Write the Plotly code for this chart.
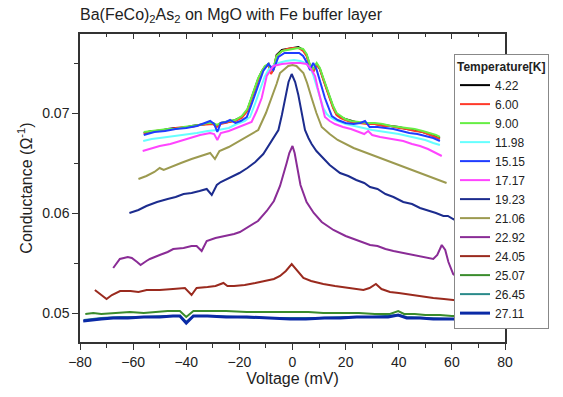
import plotly.graph_objects as go

temps = ["4.22", "6.00", "9.00", "11.98", "15.15", "17.17", "19.23", "21.06",
         "22.92", "24.05", "25.07", "26.45", "27.11"]

V_422 = [-56, -53, -50, -47, -44, -41, -38, -35, -32, -30, -28.5, -27, -24, -21.5, -19.1, -17, -15.4, -14, -12.9, -11.5, -10.4, -9, -8.1, -7, -6, -4, -2, 0, 2.2, 4, 5.3, 6.5, 7.8, 9.1, 10.3, 11.6, 12.8, 14.1, 15.3, 16.6, 18, 19.8, 22, 25, 28, 31, 34, 37, 40, 43, 46, 49, 52, 54, 55.5]
G_422 = [0.0680, 0.0682, 0.0682, 0.0684, 0.0685, 0.0685, 0.0687, 0.0688, 0.0689, 0.0690, 0.0687, 0.0690, 0.0691, 0.0693, 0.0696, 0.0703, 0.0715, 0.0726, 0.0734, 0.0742, 0.0746, 0.0749, 0.0740, 0.0745, 0.0758, 0.0763, 0.0764, 0.0765, 0.0766, 0.0763, 0.0758, 0.0748, 0.0742, 0.0749, 0.0744, 0.0734, 0.0725, 0.0715, 0.0706, 0.0699, 0.0696, 0.0694, 0.0692, 0.0690, 0.0690, 0.0689, 0.0688, 0.0687, 0.0686, 0.0684, 0.0683, 0.0681, 0.0679, 0.0677, 0.0675]

V_600 = [-56, -53, -50, -47, -44, -41, -38, -35, -32, -30, -28.5, -27, -24, -21.5, -19.1, -17, -15.4, -14, -12.9, -11.5, -10.4, -9, -8.1, -7, -6, -4, -2, 0, 2.2, 4, 5.3, 6.5, 7.8, 9.1, 10.3, 11.6, 12.8, 14.1, 15.3, 16.6, 18, 19.8, 22, 25, 28, 31, 34, 37, 40, 43, 46, 49, 52, 54, 55.5]
G_600 = [0.0679, 0.0681, 0.0683, 0.0683, 0.0685, 0.0686, 0.0686, 0.0688, 0.0689, 0.0689, 0.0686, 0.0689, 0.0691, 0.0692, 0.0695, 0.0702, 0.0714, 0.0725, 0.0733, 0.0741, 0.0746, 0.0748, 0.0739, 0.0744, 0.0757, 0.0762, 0.0764, 0.0765, 0.0765, 0.0762, 0.0757, 0.0747, 0.0741, 0.0748, 0.0744, 0.0733, 0.0724, 0.0714, 0.0705, 0.0698, 0.0695, 0.0693, 0.0691, 0.0690, 0.0689, 0.0689, 0.0687, 0.0687, 0.0685, 0.0684, 0.0682, 0.0681, 0.0678, 0.0676, 0.0674]

V_900 = [-56, -53, -50, -47, -44, -41, -38, -35, -32, -30, -28.5, -27, -24, -21.5, -19.1, -17, -15.4, -14, -12.9, -11.5, -10.4, -9, -8.1, -7, -6, -4, -2, 0, 2.2, 4, 5.3, 6.5, 7.8, 9.1, 10.3, 11.6, 12.8, 14.1, 15.3, 16.6, 18, 19.8, 22, 25, 28, 31, 34, 37, 40, 43, 46, 49, 52, 54, 55.5]
G_900 = [0.0681, 0.0682, 0.0683, 0.0684, 0.0684, 0.0686, 0.0687, 0.0688, 0.0690, 0.0690, 0.0688, 0.0690, 0.0692, 0.0693, 0.0697, 0.0704, 0.0716, 0.0727, 0.0735, 0.0742, 0.0747, 0.0749, 0.0742, 0.0747, 0.0757, 0.0762, 0.0763, 0.0764, 0.0765, 0.0764, 0.0759, 0.0749, 0.0744, 0.0750, 0.0745, 0.0735, 0.0726, 0.0716, 0.0707, 0.0700, 0.0697, 0.0694, 0.0692, 0.0691, 0.0690, 0.0690, 0.0689, 0.0687, 0.0686, 0.0685, 0.0684, 0.0682, 0.0680, 0.0678, 0.0676]

V_1198 = [-56.2, -53, -50, -47, -44, -40, -36, -32, -28, -24, -21, -18, -16, -14, -12.2, -10.5, -9.1, -7, -5.3, -2.5, 0.6, 3, 5, 6.6, 7.8, 9.1, 10.3, 11.6, 12.9, 14.1, 16, 20, 25, 30, 35, 40, 45, 50, 53, 55.5]
G_1198 = [0.0672, 0.0674, 0.0675, 0.0676, 0.0677, 0.0679, 0.0680, 0.0682, 0.0683, 0.0685, 0.0689, 0.0692, 0.0696, 0.0710, 0.0724, 0.0736, 0.0743, 0.0748, 0.0750, 0.0752, 0.0753, 0.0752, 0.0750, 0.0746, 0.0738, 0.0727, 0.0716, 0.0705, 0.0699, 0.0696, 0.0693, 0.0689, 0.0686, 0.0683, 0.0681, 0.0679, 0.0676, 0.0673, 0.0670, 0.0668]

V_1515 = [-56, -52, -48, -44, -40, -36, -33, -31, -29.5, -28.3, -27, -25, -23.5, -21.5, -19.5, -17.2, -15.5, -13.5, -12.2, -11, -9.1, -7.2, -5.3, -3, 0, 2.5, 4, 5.3, 6.6, 7.8, 9, 9.7, 11, 12.2, 13.5, 14.8, 17, 20, 23, 25.5, 27.3, 29, 32, 35, 38, 41, 44, 47, 50, 53, 55.5]
G_1515 = [0.0678, 0.0681, 0.0682, 0.0684, 0.0685, 0.0687, 0.0690, 0.0692, 0.0689, 0.0681, 0.0690, 0.0691, 0.0693, 0.0690, 0.0692, 0.0696, 0.0708, 0.0724, 0.0734, 0.0742, 0.0749, 0.0743, 0.0756, 0.0760, 0.0760, 0.0760, 0.0757, 0.0751, 0.0743, 0.0750, 0.0744, 0.0737, 0.0726, 0.0715, 0.0705, 0.0697, 0.0693, 0.0690, 0.0689, 0.0690, 0.0692, 0.0686, 0.0686, 0.0685, 0.0684, 0.0682, 0.0680, 0.0679, 0.0677, 0.0675, 0.0672]

V_1717 = [-56.4, -53, -50, -46, -42, -38, -34.8, -31, -29.5, -28.3, -27, -24, -20, -17.5, -15.4, -13.5, -11.6, -9.7, -7.2, -4, -0.3, 3, 5.3, 7, 8.5, 9.5, 10.4, 11.3, 12.2, 14, 16, 19, 22, 25, 27, 28.5, 30, 33, 37, 41.7, 45, 48, 51, 54, 56.2]
G_1717 = [0.0662, 0.0665, 0.0667, 0.0669, 0.0672, 0.0675, 0.0678, 0.0680, 0.0679, 0.0673, 0.0680, 0.0682, 0.0686, 0.0689, 0.0691, 0.0702, 0.0715, 0.0737, 0.0747, 0.0749, 0.0750, 0.0750, 0.0749, 0.0744, 0.0737, 0.0725, 0.0715, 0.0705, 0.0696, 0.0692, 0.0689, 0.0686, 0.0684, 0.0681, 0.0679, 0.0682, 0.0678, 0.0676, 0.0674, 0.0672, 0.0669, 0.0667, 0.0664, 0.0660, 0.0657]

V_1923 = [-61.4, -58, -55, -51, -47, -44, -41, -38, -35, -32.3, -30.4, -28.5, -27, -24, -20, -17, -14, -11, -8.5, -6.5, -5.3, -4, -2.8, -1.5, -0.3, 1, 2.2, 3.5, 4.7, 6, 7.2, 9, 10.4, 14, 17.9, 21, 24, 27, 29.2, 32, 35, 38, 41.7, 45, 48, 51.8, 54, 56.8, 58.5, 60.5, 62]
G_1923 = [0.0600, 0.0603, 0.0607, 0.0611, 0.0614, 0.0616, 0.0619, 0.0620, 0.0622, 0.0624, 0.0618, 0.0628, 0.0631, 0.0635, 0.0640, 0.0645, 0.0651, 0.0659, 0.0669, 0.0677, 0.0683, 0.0698, 0.0715, 0.0731, 0.0739, 0.0731, 0.0718, 0.0698, 0.0683, 0.0675, 0.0669, 0.0662, 0.0658, 0.0648, 0.0640, 0.0637, 0.0633, 0.0630, 0.0626, 0.0624, 0.0619, 0.0616, 0.0611, 0.0609, 0.0605, 0.0602, 0.0600, 0.0597, 0.0597, 0.0594, 0.0592]

V_2106 = [-58, -55, -52, -50, -48.5, -46, -42, -38, -34, -31, -29.2, -27.5, -24, -20, -16, -12.9, -10, -7.8, -6, -4.7, -1.6, 0, 1.5, 4.1, 5.5, 7.2, 9, 11, 14, 17, 20, 23, 27, 31, 35.5, 40, 44, 48, 52, 55, 58]
G_2106 = [0.0634, 0.0637, 0.0641, 0.0645, 0.0643, 0.0646, 0.0650, 0.0654, 0.0657, 0.0660, 0.0654, 0.0662, 0.0666, 0.0672, 0.0678, 0.0683, 0.0700, 0.0715, 0.0729, 0.0740, 0.0747, 0.0748, 0.0747, 0.0740, 0.0730, 0.0715, 0.0700, 0.0686, 0.0679, 0.0673, 0.0669, 0.0665, 0.0661, 0.0657, 0.0653, 0.0648, 0.0644, 0.0640, 0.0636, 0.0633, 0.0630]

V_2292 = [-67.5, -66, -65, -62, -60.5, -58.5, -57.2, -55, -53.7, -50, -47, -44.9, -41, -38, -36.1, -34.2, -32.3, -29, -25, -22, -19.8, -16, -13, -9.7, -7, -4.7, -3, -2.2, -1.2, 0, 0.8, 1.6, 3, 5.3, 8, 11, 15.4, 20, 25, 29.2, 32, 35, 38, 42, 45, 48, 51, 53, 54.5, 56.2, 57.5, 58.7, 60.5, 62]
G_2292 = [0.0545, 0.0551, 0.0554, 0.0556, 0.0555, 0.0551, 0.0548, 0.0552, 0.0554, 0.0558, 0.0561, 0.0564, 0.0565, 0.0567, 0.0567, 0.0562, 0.0572, 0.0575, 0.0577, 0.0579, 0.0581, 0.0587, 0.0592, 0.0602, 0.0612, 0.0627, 0.0641, 0.0650, 0.0660, 0.0667, 0.0660, 0.0647, 0.0628, 0.0611, 0.0600, 0.0591, 0.0583, 0.0577, 0.0572, 0.0568, 0.0567, 0.0564, 0.0562, 0.0560, 0.0558, 0.0557, 0.0555, 0.0554, 0.0558, 0.0568, 0.0563, 0.0551, 0.0539, 0.0536]

V_2405 = [-74.4, -72, -70, -68, -64.9, -61, -58, -54.9, -50, -45, -40.5, -38, -36.1, -32, -29, -26, -24.5, -22, -18, -14, -11, -7, -4.7, -2.5, -0.3, 1.5, 4.1, 7, 11.6, 16, 21, 26.7, 29, 31.4, 33.5, 36.7, 40, 45, 49.2, 53, 57, 60.5, 64, 67, 69.3, 71, 72.5, 74.4]
G_2405 = [0.0523, 0.0518, 0.0514, 0.0518, 0.0522, 0.0522, 0.0521, 0.0523, 0.0523, 0.0524, 0.0525, 0.0518, 0.0525, 0.0526, 0.0527, 0.0530, 0.0527, 0.0527, 0.0528, 0.0530, 0.0532, 0.0534, 0.0537, 0.0542, 0.0549, 0.0543, 0.0535, 0.0532, 0.0529, 0.0527, 0.0525, 0.0523, 0.0525, 0.0529, 0.0524, 0.0521, 0.0520, 0.0518, 0.0516, 0.0515, 0.0514, 0.0513, 0.0512, 0.0510, 0.0508, 0.0510, 0.0508, 0.0508]

V_2507 = [-78, -75, -72, -68, -64, -61.2, -56, -52, -47, -42.4, -40, -37.3, -32, -25, -17.2, -10, -3, 1.6, 6, 11.6, 18, 25, 31, 36.7, 39.8, 42, 46, 50, 55.5, 60, 65, 71.8, 75, 78.1]
G_2507 = [0.0499, 0.0500, 0.0499, 0.0500, 0.0501, 0.0501, 0.0500, 0.0501, 0.0502, 0.0502, 0.0496, 0.0502, 0.0502, 0.0502, 0.0501, 0.0501, 0.0501, 0.0501, 0.0501, 0.0500, 0.0500, 0.0500, 0.0499, 0.0499, 0.0502, 0.0499, 0.0499, 0.0498, 0.0498, 0.0497, 0.0497, 0.0496, 0.0494, 0.0492]

V_2645 = [-78.5, -72, -65, -56, -48, -42.4, -40, -37.3, -30, -20, -10, 0, 10, 20, 30, 39.8, 43, 50, 60, 70, 78]
G_2645 = [0.0493, 0.0495, 0.0496, 0.0496, 0.0497, 0.0497, 0.0491, 0.0497, 0.0497, 0.0496, 0.0495, 0.0495, 0.0495, 0.0496, 0.0496, 0.0498, 0.0496, 0.0495, 0.0494, 0.0493, 0.0491]

V_2711 = [-78.8, -76, -72, -67.5, -62, -56, -50, -45, -42.4, -40, -37.3, -32, -25, -17.2, -10, -5, -0.9, 5, 12, 18, 24.2, 30, 36, 39.8, 43, 48, 53, 57, 61.8, 66, 70, 74, 78.1]
G_2711 = [0.0492, 0.0493, 0.0494, 0.0495, 0.0495, 0.0496, 0.0496, 0.0497, 0.0497, 0.0490, 0.0497, 0.0497, 0.0496, 0.0496, 0.0495, 0.0494, 0.0494, 0.0494, 0.0495, 0.0495, 0.0496, 0.0496, 0.0496, 0.0498, 0.0495, 0.0495, 0.0494, 0.0494, 0.0494, 0.0493, 0.0493, 0.0492, 0.0490]

series_v = [V_422, V_600, V_900, V_1198, V_1515, V_1717, V_1923, V_2106, V_2292, V_2405, V_2507, V_2645, V_2711]
series_g = [G_422, G_600, G_900, G_1198, G_1515, G_1717, G_1923, G_2106, G_2292, G_2405, G_2507, G_2645, G_2711]

colors = ["#000000", "#ff3a2a", "#66ee44", "#66ffff", "#1f3cff", "#ff44ff", "#1c2c8e",
          "#9c9a50", "#8a2c96", "#9a2a1e", "#3a8c2c", "#2a8a8a", "#0a2aa6"]
widths = [2, 2, 2, 2, 2, 2, 2, 2, 2, 2, 2, 2, 3]

FONT = "Arial, Liberation Sans, sans-serif"

fig = go.Figure()
for name, v, g, c, w in zip(temps, series_v, series_g, colors, widths):
    fig.add_trace(go.Scatter(x=v, y=g, mode="lines", name=name,
                             line=dict(color=c, width=w)))

# helper overlay axes for inward ticks on top / right
fig.add_trace(go.Scatter(x=[None], y=[None], xaxis="x2", yaxis="y2",
                         showlegend=False, hoverinfo="skip"))

XR = [-80, 80]
YR = [0.0471, 0.0779]

fig.update_layout(
    width=563, height=397,
    margin=dict(l=80, r=58, t=34, b=40),
    paper_bgcolor="white", plot_bgcolor="white",
    font=dict(family=FONT, color="#222", size=14),
    title=dict(text="Ba(FeCo)<sub>2</sub>As<sub>2</sub> on MgO with Fe buffer layer",
               x=80 / 563, xanchor="left", xref="container",
               y=1 - 14 / 397, yanchor="middle", yref="container",
               font=dict(family=FONT, size=16, color="#222")),
    xaxis=dict(range=XR, showgrid=False, zeroline=False,
               showline=True, linecolor="#333", linewidth=1.5, mirror=True,
               ticks="outside", ticklen=6, tickwidth=1.2, tickcolor="#333",
               dtick=20, tick0=0,
               minor=dict(ticks="outside", ticklen=4, tickcolor="#333", dtick=10, tick0=0),
               tickfont=dict(size=14),
               title=dict(text="Voltage (mV)", font=dict(size=16), standoff=4)),
    yaxis=dict(range=YR, showgrid=False, zeroline=False,
               showline=True, linecolor="#333", linewidth=1.5, mirror=True,
               ticks="outside", ticklen=6, tickwidth=1.2, tickcolor="#333",
               dtick=0.01, tick0=0, tickformat=".2f",
               minor=dict(ticks="outside", ticklen=4, tickcolor="#333", dtick=0.005, tick0=0),
               tickfont=dict(size=14),
               title=dict(text="Conductance (Ω<sup>-1</sup>)", font=dict(size=16), standoff=6)),
    xaxis2=dict(range=XR, overlaying="x", side="top", showgrid=False, zeroline=False,
                showline=False, showticklabels=False,
                ticks="inside", ticklen=5, tickwidth=1.2, tickcolor="#333",
                dtick=20, tick0=0,
                minor=dict(ticks="inside", ticklen=3, tickcolor="#333", dtick=10, tick0=0)),
    yaxis2=dict(range=YR, overlaying="y", side="right", showgrid=False, zeroline=False,
                showline=False, showticklabels=False,
                ticks="inside", ticklen=5, tickwidth=1.2, tickcolor="#333",
                dtick=0.01, tick0=0,
                minor=dict(ticks="inside", ticklen=3, tickcolor="#333", dtick=0.005, tick0=0)),
    legend=dict(x=0.88, y=0.935, xanchor="left", yanchor="top",
                bgcolor="white", bordercolor="#888", borderwidth=1,
                font=dict(family=FONT, size=12, color="#222"),
                title=dict(text="<b>Temperature[K]</b>", font=dict(size=12)),
                itemwidth=30, tracegroupgap=0),
    showlegend=True,
)

fig.write_html("out.html")
